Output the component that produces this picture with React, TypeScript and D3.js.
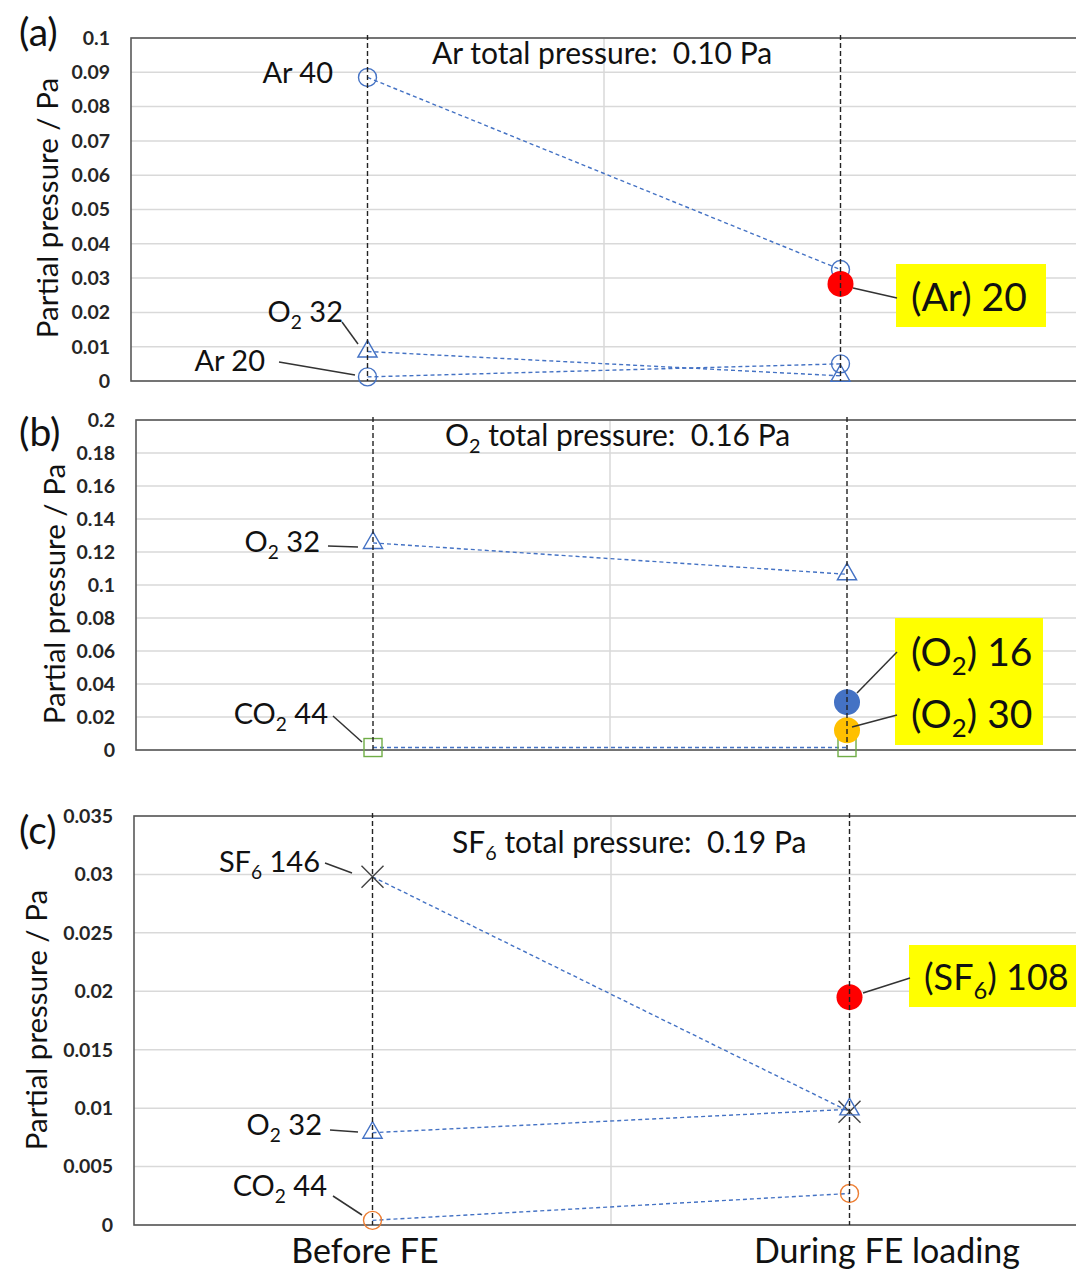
import React from "react";
import * as d3 from "d3";

const W = 1076;
const H = 1270;
const FONT = "Lato, 'Open Sans', sans-serif";

// category positions on the 0..4 scatter axis
const catX = [1, 3];
const catLabels = ["Before FE", "During FE loading"];

// (a) Ar
const aTicks = [0, 0.01, 0.02, 0.03, 0.04, 0.05, 0.06, 0.07, 0.08, 0.09, 0.1];
const aAr40 = [0.0885, 0.0325];
const aO232 = [0.0086, 0.0015];
const aAr20 = [0.0012, 0.005];
const aArFrag20 = [0.0283];

// (b) O2
const bTicks = [0, 0.02, 0.04, 0.06, 0.08, 0.1, 0.12, 0.14, 0.16, 0.18, 0.2];
const bO232 = [0.1255, 0.1065];
const bCO244 = [0.0015, 0.0015];
const bOFrag16 = [0.029];
const bOFrag30 = [0.012];

// (c) SF6
const cTicks = [0, 0.005, 0.01, 0.015, 0.02, 0.025, 0.03, 0.035];
const cSF6146 = [0.0298, 0.0097];
const cO232 = [0.0079, 0.0099];
const cCO244 = [0.0004, 0.0027];
const cSFFrag108 = [0.0195];

const BLUE = "#4472C4";
const NB = "\u00a0";

type Series = { values: number[]; cats: number[]; marker: string; color: string; line: boolean };
type Note = { text: string; x: number; y: number; anchor: string; size: number; leader?: number[] };
type Box = { x: number; y: number; w: number; h: number };

const panels = [
  {
    tag: "(a)", tagY: 46, left: 131, width: 946, top: 38, bottom: 381, ticks: aTicks, titleX: 58, titleY: 208,
    header: { text: `Ar total pressure:${NB} 0.10 Pa`, x: 432, y: 64 },
    series: [
      { values: aAr40, cats: catX, marker: "circle", color: BLUE, line: true },
      { values: aO232, cats: catX, marker: "triangle", color: BLUE, line: true },
      { values: aAr20, cats: catX, marker: "circle", color: BLUE, line: true },
      { values: aArFrag20, cats: [3], marker: "dot", color: "#FF0000", line: false },
    ] as Series[],
    boxes: [{ x: 896, y: 264, w: 150, h: 63 }] as Box[],
    notes: [
      { text: "Ar 40", x: 333, y: 83, anchor: "end", size: 29 },
      { text: "O_2_ 32", x: 343, y: 322, anchor: "end", size: 29, leader: [342, 322, 358, 344] },
      { text: "Ar 20", x: 265, y: 371, anchor: "end", size: 29, leader: [279, 362, 355, 375] },
      { text: "(Ar) 20", x: 911, y: 311, anchor: "start", size: 39, leader: [853, 288, 897, 298] },
    ] as Note[],
  },
  {
    tag: "(b)", tagY: 446, left: 136, width: 948, top: 420, bottom: 750, ticks: bTicks, titleX: 65, titleY: 594,
    header: { text: `O_2_ total pressure:${NB} 0.16 Pa`, x: 445, y: 446 },
    series: [
      { values: bO232, cats: catX, marker: "triangle", color: BLUE, line: true },
      { values: bCO244, cats: catX, marker: "square", color: "#70AD47", line: true },
      { values: bOFrag16, cats: [3], marker: "dot", color: BLUE, line: false },
      { values: bOFrag30, cats: [3], marker: "dot", color: "#FFC000", line: false },
    ] as Series[],
    boxes: [{ x: 895, y: 618, w: 148, h: 127 }] as Box[],
    notes: [
      { text: "O_2_ 32", x: 320, y: 552, anchor: "end", size: 29, leader: [328, 546, 358, 547] },
      { text: "CO_2_ 44", x: 328, y: 724, anchor: "end", size: 29, leader: [333, 716, 362, 742] },
      { text: "(O_2_) 16", x: 911, y: 666, anchor: "start", size: 39, leader: [857, 693, 897, 652] },
      { text: "(O_2_) 30", x: 911, y: 728, anchor: "start", size: 39, leader: [852, 727, 897, 715] },
    ] as Note[],
  },
  {
    tag: "(c)", tagY: 844, left: 134, width: 954, top: 816, bottom: 1225, ticks: cTicks, titleX: 47, titleY: 1020,
    header: { text: `SF_6_ total pressure:${NB} 0.19 Pa`, x: 452, y: 853 },
    series: [
      { values: cSF6146, cats: catX, marker: "x", color: "#404040", line: true },
      { values: cO232, cats: catX, marker: "triangle", color: BLUE, line: true },
      { values: cCO244, cats: catX, marker: "circle", color: "#ED7D31", line: true },
      { values: cSFFrag108, cats: [3], marker: "dot", color: "#FF0000", line: false },
    ] as Series[],
    boxes: [{ x: 909, y: 945, w: 170, h: 62 }] as Box[],
    notes: [
      { text: "SF_6_ 146", x: 320, y: 872, anchor: "end", size: 29, leader: [325, 863, 352, 873] },
      { text: "O_2_ 32", x: 322, y: 1135, anchor: "end", size: 29, leader: [330, 1130, 358, 1132] },
      { text: "CO_2_ 44", x: 327, y: 1196, anchor: "end", size: 29, leader: [333, 1196, 362, 1215] },
      { text: "(SF_6_) 108", x: 924, y: 990, anchor: "start", size: 36, leader: [863, 993, 910, 978] },
    ] as Note[],
  },
];

function Rich({ text, x, y, size, anchor = "start" }: any) {
  const parts = text.split("_");
  return (
    <text x={x} y={y} fontSize={size} textAnchor={anchor} fill="#111" fontFamily={FONT}>
      {parts.map((p: string, i: number) =>
        i % 2 === 1 ? (
          <tspan key={i} fontSize={size * 0.66} dy={size * 0.24}>{p}</tspan>
        ) : (
          <tspan key={i} dy={i === 0 ? 0 : -size * 0.24}>{p}</tspan>
        )
      )}
    </text>
  );
}

function Marker({ kind, cx, cy, color }: any) {
  if (kind === "circle")
    return <circle cx={cx} cy={cy} r={9} fill="none" stroke={color} strokeWidth={1.4} />;
  if (kind === "dot") return <circle cx={cx} cy={cy} r={13} fill={color} />;
  if (kind === "square")
    return <rect x={cx - 9} y={cy - 9} width={18} height={18} fill="none" stroke={color} strokeWidth={1.4} />;
  if (kind === "triangle") {
    const tri = d3.symbol(d3.symbolTriangle, 160)();
    return <path d={tri ?? ""} transform={`translate(${cx},${cy})`} fill="none" stroke={color} strokeWidth={1.4} />;
  }
  const s = 11;
  return (
    <path d={`M${cx - s},${cy - s}L${cx + s},${cy + s}M${cx - s},${cy + s}L${cx + s},${cy - s}`}
      stroke={color} strokeWidth={1.4} />
  );
}

function Panel({ p }: any) {
  const x = d3.scaleLinear().domain([0, 4]).range([p.left, p.left + p.width]);
  const yMax = p.ticks[p.ticks.length - 1];
  const y = d3.scaleLinear().domain([0, yMax]).range([p.bottom, p.top]);
  const line = d3.line<[number, number]>().x((d) => x(d[0])).y((d) => y(d[1]));
  return (
    <g>
      {p.ticks.map((t: number) => (
        <g key={t}>
          <line x1={p.left} x2={x(4)} y1={y(t)} y2={y(t)} stroke="#d9d9d9" strokeWidth={1.5} />
          <text x={p.left - 21} y={y(t)} dy="0.35em" textAnchor="end" fontSize={19.5} fontWeight="bold"
            fill="#262626" fontFamily={FONT}>{String(t)}</text>
        </g>
      ))}
      <line x1={x(2)} x2={x(2)} y1={p.top} y2={p.bottom} stroke="#d9d9d9" strokeWidth={1.5} />
      <rect x={p.left} y={p.top} width={p.width} height={p.bottom - p.top} fill="none" stroke="#595959" strokeWidth={1.6} />
      <text transform={`translate(${p.titleX},${p.titleY}) rotate(-90)`} textAnchor="middle" fontSize={29.5}
        fill="#111" fontFamily={FONT}>Partial pressure / Pa</text>
      <text x={19} y={p.tagY} fontSize={39} fill="#111" fontFamily={FONT}>{p.tag}</text>
      <Rich text={p.header.text} x={p.header.x} y={p.header.y} size={30} />
      {p.series.filter((s: Series) => s.line).map((s: Series, i: number) => (
        <path key={i} d={line(s.values.map((v, j) => [s.cats[j], v]) as [number, number][]) ?? ""}
          fill="none" stroke={BLUE} strokeWidth={1.4} strokeDasharray="4,3" />
      ))}
      {p.series.map((s: Series, i: number) =>
        s.values.map((v, j) => (
          <Marker key={`${i}-${j}`} kind={s.marker} cx={x(s.cats[j])} cy={y(v)} color={s.color} />
        ))
      )}
      {catX.map((c) => (
        <line key={c} x1={x(c)} x2={x(c)} y1={p.top - 3} y2={p.bottom} stroke="#222" strokeWidth={1.4}
          strokeDasharray="5,3" />
      ))}
      {p.boxes.map((b: Box, i: number) => (
        <rect key={i} x={b.x} y={b.y} width={b.w} height={b.h} fill="#FFFF00" />
      ))}
      {p.notes.map((n: Note, i: number) => (
        <g key={i}>
          {n.leader && (
            <line x1={n.leader[0]} y1={n.leader[1]} x2={n.leader[2]} y2={n.leader[3]} stroke="#333" strokeWidth={1.5} />
          )}
          <Rich text={n.text} x={n.x} y={n.y} size={n.size} anchor={n.anchor} />
        </g>
      ))}
    </g>
  );
}

export default function App() {
  return (
    <svg width={W} height={H} style={{ position: "absolute", left: 0, top: 0, background: "#fff" }}>
      {panels.map((p, i) => (
        <Panel key={i} p={p} />
      ))}
      <text x={365} y={1263} textAnchor="middle" fontSize={34} fill="#111" fontFamily={FONT}>{catLabels[0]}</text>
      <text x={887} y={1263} textAnchor="middle" fontSize={34} fill="#111" fontFamily={FONT}>{catLabels[1]}</text>
    </svg>
  );
}
